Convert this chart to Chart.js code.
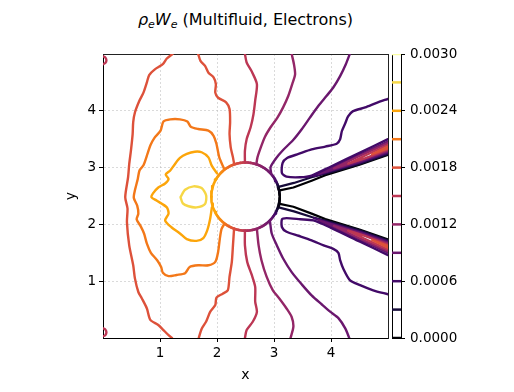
<!DOCTYPE html>
<html>
<head>
<meta charset="utf-8">
<script src="https://cdn.jsdelivr.net/npm/chart.js@4.4.1/dist/chart.umd.min.js"></script>
<style>
html, body { margin: 0; padding: 0; background: #fff; }
#wrap { position: relative; width: 514px; height: 392px; }
#wrap canvas { position: absolute; left: 0; top: 0; }
#title { position: absolute; left: 103px; width: 285px; top: 10px; text-align: center;
         font-family: "DejaVu Sans"; font-size: 16px; line-height: 20px; white-space: nowrap; color: #000; }
#title sub { font-size: 11px; line-height: 0; vertical-align: -3px; }
</style>
</head>
<body>
<div id="wrap">
  <div id="title"><i>ρ<sub>e</sub>W<sub>e</sub></i> (Multifluid, Electrons)</div>
  <canvas id="main" width="514" height="392"></canvas>
  <canvas id="cbar" width="514" height="392"></canvas>
</div>
<script>
// contour levels and their inferno colours
const levels = [0, 0.0003, 0.0006, 0.0009, 0.0012, 0.0015, 0.0018, 0.0021, 0.0024, 0.0027, 0.003];
const levelColors = ['#000004', '#160b39', '#420a68', '#6a176e', '#932667', '#bc3754',
                     '#dd513a', '#f37819', '#fca50a', '#f6d746', '#fcffa4'];
const xTicks = [1, 2, 3, 4];
const yTicks = [1, 2, 3, 4];
const cbarTicks = [0, 0.0006, 0.0012, 0.0018, 0.0024, 0.003];

// obstacle rim: level seen along the circle edge (degrees from +x, symmetric)
const rimDeg   = [0, 15, 28, 42, 72, 91, 110, 127, 150, 180];
const rimLevel = [0, 0.0001, 0.0006, 0.0009, 0.0012, 0.0015, 0.0018, 0.0021, 0.0024, 0.0024];
const rimCenter = [2.5, 2.49];
const rimRadius = 0.6;

// contour pieces (x, y)
const c27 = [[1.36,2.48],[1.44,2.61],[1.59,2.67],[1.73,2.64],[1.81,2.51],[1.79,2.36],[1.64,2.30],[1.50,2.32],[1.40,2.37],[1.36,2.48]];
const c24 = [[2.00,2.90],[1.91,3.03],[1.85,3.18],[1.73,3.27],[1.61,3.28],[1.47,3.24],[1.35,3.17],[1.26,3.06],[1.18,2.95],[1.10,2.88],
             [1.15,2.80],[1.09,2.72],[0.97,2.65],[0.88,2.55],[0.85,2.48],[0.94,2.42],[1.12,2.30],[1.15,2.19],[1.09,2.07],[1.20,1.95],
             [1.35,1.84],[1.47,1.74],[1.64,1.71],[1.76,1.76],[1.83,1.90],[1.88,2.10],[1.91,2.30]];
const c21 = [[2.12,2.99],[2.04,3.18],[1.99,3.42],[1.94,3.56],[1.85,3.65],[1.67,3.68],[1.54,3.72],[1.48,3.81],[1.35,3.85],[1.18,3.85],
             [1.06,3.81],[1.01,3.65],[0.90,3.52],[0.83,3.39],[0.78,3.24],[0.71,3.04],[0.64,2.95],[0.61,2.80],[0.56,2.60],[0.54,2.47],
             [0.60,2.33],[0.62,2.19],[0.59,2.09],[0.66,1.97],[0.72,1.84],[0.77,1.66],[0.84,1.50],[0.95,1.37],[1.02,1.25],[1.05,1.15],
             [1.15,1.09],[1.29,1.11],[1.44,1.14],[1.52,1.25],[1.67,1.28],[1.85,1.28],[1.97,1.34],[2.02,1.52],[2.05,1.75],[2.08,1.92],[2.13,2.01]];
const c18Left = [[1.22,5.0],[1.12,4.92],[1.05,4.82],[0.91,4.73],[0.81,4.63],[0.77,4.50],[0.71,4.32],[0.64,4.18],[0.56,3.97],[0.53,3.80],
                 [0.52,3.59],[0.49,3.30],[0.46,3.06],[0.44,2.83],[0.39,2.48],[0.43,2.28],[0.42,2.04],[0.46,1.63],[0.53,1.28],[0.56,1.05],
                 [0.62,0.81],[0.68,0.70],[0.77,0.52],[0.83,0.32],[0.97,0.23],[1.06,0.14],[1.15,0.05],[1.21,0.0]];
const c18Top = [[1.67,5.0],[1.71,4.88],[1.79,4.79],[1.85,4.67],[1.94,4.59],[1.98,4.47],[1.97,4.32],[2.02,4.23],[2.16,4.15],[2.22,4.03],
                [2.23,3.80],[2.22,3.59],[2.24,3.36],[2.28,3.18],[2.30,3.07]];
const c18Bottom = [[2.30,1.93],[2.28,1.63],[2.26,1.34],[2.22,1.08],[2.19,0.84],[2.10,0.78],[1.99,0.71],[1.97,0.58],[1.88,0.46],[1.81,0.29],[1.73,0.16],[1.68,0.0]];
const c15Top = [[2.49,5.0],[2.52,4.85],[2.61,4.69],[2.70,4.47],[2.67,4.18],[2.64,3.94],[2.59,3.71],[2.52,3.50],[2.49,3.30],[2.49,3.09]];
const c15Bottom = [[2.49,1.89],[2.49,1.63],[2.53,1.34],[2.61,1.11],[2.67,0.90],[2.67,0.64],[2.70,0.46],[2.63,0.29],[2.52,0.14],[2.49,0.0]];
const c15CornerTop = [[0,4.96],[0.04,4.94],[0.06,4.89],[0.04,4.84],[0,4.82]];
const c15CornerBottom = [[0,0.17],[0.04,0.15],[0.06,0.10],[0.04,0.05],[0,0.03]];
const c12Top = [[3.31,5.0],[3.35,4.82],[3.37,4.64],[3.32,4.47],[3.25,4.26],[3.16,4.06],[3.06,3.88],[2.94,3.71],[2.84,3.54],[2.77,3.36],[2.71,3.18],[2.69,3.06]];
const c12Bottom = [[2.70,1.92],[2.73,1.63],[2.78,1.37],[2.87,1.08],[2.98,0.84],[3.09,0.70],[3.22,0.52],[3.31,0.37],[3.34,0.20],[3.29,0.0]];
const c09Top = [[4.33,5.0],[4.26,4.82],[4.16,4.61],[4.04,4.41],[3.92,4.26],[3.78,4.09],[3.63,3.88],[3.49,3.68],[3.34,3.49],[3.16,3.31],
                [3.04,3.17],[2.94,3.01],[2.95,2.90]];
const c09Bottom = [[2.93,2.05],[2.96,1.84],[3.05,1.63],[3.16,1.40],[3.31,1.16],[3.49,0.94],[3.66,0.75],[3.84,0.59],[3.99,0.46],[4.13,0.35],[4.25,0.17],[4.32,0.0]];
const c06Upper = [[5.0,4.21],[4.80,4.14],[4.60,4.06],[4.38,3.99],[4.30,3.90],[4.25,3.78],[4.19,3.64],[4.16,3.50],[4.10,3.42],[3.90,3.37],
                  [3.66,3.32],[3.43,3.24],[3.23,3.17],[3.15,3.08],[3.14,2.90],[3.22,2.84],[3.46,2.83],[3.66,2.86],[4.0,3.02],[4.5,3.26],[5.0,3.50]];
const c06Lower = [[5.0,0.77],[4.74,0.84],[4.51,0.93],[4.33,1.02],[4.22,1.21],[4.16,1.37],[4.13,1.50],[4.04,1.57],[3.87,1.63],[3.66,1.72],
                  [3.43,1.80],[3.22,1.87],[3.14,1.95],[3.14,2.09],[3.22,2.11],[3.46,2.09],[3.69,2.07],[4.0,1.94],[4.5,1.70],[5.0,1.46]];

// the two narrow jets leaving the obstacle
const jetUp00 = [[3.10,2.60],[3.34,2.65],[3.66,2.77],[3.90,2.865],[4.5,3.05],[5.0,3.225]];
const jetUp03 = [[3.08,2.66],[3.35,2.73],[3.66,2.83],[4.0,2.92],[4.5,3.065],[5.0,3.24]];
const jetUp06 = [[3.70,2.85],[4.0,2.94],[4.5,3.085],[5.0,3.26]];
const jetUp09 = [[5.0,3.28],[4.5,3.105],[4.0,2.955],[3.78,2.89],[4.0,2.99],[4.5,3.225],[5.0,3.46]];
const jetUp12 = [[5.0,3.30],[4.5,3.125],[4.05,2.985],[4.5,3.205],[5.0,3.43]];
const jetUp15 = [[5.0,3.32],[4.6,3.165],[4.3,3.07],[4.6,3.215],[5.0,3.40]];
const jetUp18 = [[5.0,3.34],[4.72,3.235],[5.0,3.37]];
const jetDn00 = [[3.10,2.36],[3.34,2.31],[3.66,2.19],[3.90,2.095],[4.5,1.91],[5.0,1.735]];
const jetDn03 = [[3.08,2.30],[3.35,2.23],[3.66,2.13],[4.0,2.04],[4.5,1.895],[5.0,1.72]];
const jetDn06 = [[3.70,2.11],[4.0,2.02],[4.5,1.875],[5.0,1.70]];
const jetDn09 = [[5.0,1.68],[4.5,1.855],[4.0,2.005],[3.78,2.07],[4.0,1.97],[4.5,1.735],[5.0,1.50]];
const jetDn12 = [[5.0,1.66],[4.5,1.835],[4.05,1.975],[4.5,1.755],[5.0,1.53]];
const jetDn15 = [[5.0,1.64],[4.6,1.795],[4.3,1.89],[4.6,1.745],[5.0,1.56]];
const jetDn18 = [[5.0,1.62],[4.72,1.725],[5.0,1.59]];

const pieces = [
    [0.0027, c27], [0.0024, c24], [0.0021, c21],
    [0.0018, c18Left], [0.0018, c18Top], [0.0018, c18Bottom],
    [0.0015, c15Top], [0.0015, c15Bottom], [0.0015, c15CornerTop], [0.0015, c15CornerBottom],
    [0.0012, c12Top], [0.0012, c12Bottom], [0.0009, c09Top], [0.0009, c09Bottom],
    [0.0006, c06Upper], [0.0006, c06Lower]
];
const jets = [
    [0.0018, jetUp18], [0.0015, jetUp15], [0.0012, jetUp12], [0.0009, jetUp09], [0.0006, jetUp06], [0.0003, jetUp03], [0, jetUp00],
    [0.0018, jetDn18], [0.0015, jetDn15], [0.0012, jetDn12], [0.0009, jetDn09], [0.0006, jetDn06], [0.0003, jetDn03], [0, jetDn00]
];

function hexToRgb(h) {
    return [parseInt(h.slice(1, 3), 16), parseInt(h.slice(3, 5), 16), parseInt(h.slice(5, 7), 16)];
}

function colorFor(v) {
    const t = Math.max(0, Math.min(1, v / 0.003)) * (levelColors.length - 1);
    const i = Math.min(levelColors.length - 2, Math.floor(t));
    const f = t - i;
    const a = hexToRgb(levelColors[i]);
    const b = hexToRgb(levelColors[i + 1]);
    const c = a.map((ch, k) => Math.round(ch + (b[k] - ch) * f));
    return `rgb(${c[0]},${c[1]},${c[2]})`;
}

function levelColor(v) {
    const idx = levels.findIndex((l) => Math.abs(l - v) < 1e-9);
    return levelColors[idx];
}

function rimLevelAt(deg) {
    const d = Math.abs(deg);
    for (let i = 1; i < rimDeg.length; i++) {
        if (d <= rimDeg[i]) {
            const f = (d - rimDeg[i - 1]) / (rimDeg[i] - rimDeg[i - 1]);
            return rimLevel[i - 1] + (rimLevel[i] - rimLevel[i - 1]) * f;
        }
    }
    return rimLevel[rimLevel.length - 1];
}

const rimPoints = [];
const rimLevels = [];
for (let a = -180; a <= 180; a += 3) {
    const r = a * Math.PI / 180;
    rimPoints.push({ x: rimCenter[0] + rimRadius * Math.cos(r), y: rimCenter[1] + rimRadius * Math.sin(r) });
    rimLevels.push(rimLevelAt(a + 1.5));
}

const datasets = [{
    data: rimPoints,
    borderColor: '#000',
    borderWidth: 2.6,
    tension: 0,
    order: 0,
    segment: { borderColor: (ctx) => colorFor(rimLevels[ctx.p0DataIndex]) }
}];
pieces.forEach(([lv, pts]) => {
    datasets.push({
        data: pts.map(([x, y]) => ({ x, y })),
        borderColor: levelColor(lv),
        borderWidth: 2.4,
        tension: 0.25,
        order: 1
    });
});
jets.forEach(([lv, pts]) => {
    datasets.push({
        data: pts.map(([x, y]) => ({ x, y })),
        borderColor: levelColor(lv),
        borderWidth: 2.2,
        tension: 0,
        order: 2
    });
});

const font = { family: 'DejaVu Sans', size: 13.5 };
const gridColor = 'rgba(190,190,190,0.7)';

new Chart(document.getElementById('main'), {
    type: 'line',
    data: { datasets },
    options: {
        responsive: false,
        animation: false,
        events: [],
        layout: { padding: { left: 63, right: 126, top: 54, bottom: 0 } },
        plugins: { legend: { display: false }, tooltip: { enabled: false } },
        elements: { point: { radius: 0 }, line: { borderCapStyle: 'round', borderJoinStyle: 'round' } },
        scales: {
            x: {
                type: 'linear', position: 'bottom', min: 0, max: 5,
                afterBuildTicks: (s) => { s.ticks = xTicks.map((v) => ({ value: v })); },
                afterFit: (s) => { s.height = 54; },
                grid: { color: gridColor, lineWidth: 0.8, tickLength: 4, tickColor: '#000', tickWidth: 1, tickBorderDash: [] },
                border: { display: true, color: '#000', width: 1, dash: [2, 2] },
                ticks: { color: '#000', font, padding: 3, maxRotation: 0 },
                title: { display: true, text: 'x', color: '#000', font: { family: 'DejaVu Sans', size: 14 }, padding: { top: 0, bottom: 8 } }
            },
            y: {
                type: 'linear', position: 'left', min: 0, max: 5,
                afterBuildTicks: (s) => { s.ticks = yTicks.map((v) => ({ value: v })); },
                afterFit: (s) => { s.width = 40; },
                grid: { color: gridColor, lineWidth: 0.8, tickLength: 4, tickColor: '#000', tickWidth: 1, tickBorderDash: [] },
                border: { display: true, color: '#000', width: 1, dash: [2, 2] },
                ticks: { color: '#000', font, padding: 3 },
                title: { display: true, text: 'y', color: '#000', font: { family: 'DejaVu Sans', size: 14 }, padding: { top: 0, bottom: 0 } }
            },
            xTop: {
                type: 'linear', position: 'top', min: 0, max: 5,
                afterFit: (s) => { s.height = 0; },
                grid: { display: false, drawTicks: false },
                ticks: { display: false },
                border: { display: true, color: '#222', width: 1 }
            },
            yRight: {
                type: 'linear', position: 'right', min: 0, max: 5,
                afterFit: (s) => { s.width = 0; },
                grid: { display: false, drawTicks: false },
                ticks: { display: false },
                border: { display: true, color: '#222', width: 1 }
            }
        }
    }
});

// colour bar: one line per contour level
new Chart(document.getElementById('cbar'), {
    type: 'line',
    data: {
        datasets: levels.map((v, i) => ({
            data: [{ x: 0, y: v }, { x: 1, y: v }],
            borderColor: levelColors[i],
            borderWidth: 2.5,
            pointRadius: 0
        }))
    },
    options: {
        responsive: false,
        animation: false,
        events: [],
        layout: { padding: { left: 392, right: 53, top: 54, bottom: 54 } },
        plugins: { legend: { display: false }, tooltip: { enabled: false } },
        scales: {
            x: {
                type: 'linear', position: 'bottom', min: 0, max: 1,
                afterFit: (s) => { s.height = 0; },
                grid: { display: false, drawTicks: false },
                ticks: { display: false },
                border: { display: true, color: '#000', width: 1 }
            },
            xTop: {
                type: 'linear', position: 'top', min: 0, max: 1,
                afterFit: (s) => { s.height = 0; },
                grid: { display: false, drawTicks: false },
                ticks: { display: false },
                border: { display: true, color: '#000', width: 1 }
            },
            y: {
                type: 'linear', position: 'right', min: 0, max: 0.003,
                afterBuildTicks: (s) => { s.ticks = cbarTicks.map((v) => ({ value: v })); },
                afterFit: (s) => { s.width = 60; },
                grid: { drawOnChartArea: false, tickLength: 4, tickColor: '#000', tickWidth: 1 },
                border: { display: true, color: '#000', width: 1 },
                ticks: { color: '#000', font, padding: 5, callback: (v) => Number(v).toFixed(4) }
            },
            yLeft: {
                type: 'linear', position: 'left', min: 0, max: 0.003,
                afterFit: (s) => { s.width = 0; },
                grid: { display: false, drawTicks: false },
                ticks: { display: false },
                border: { display: true, color: '#000', width: 1 }
            }
        }
    }
});
</script>
</body>
</html>
